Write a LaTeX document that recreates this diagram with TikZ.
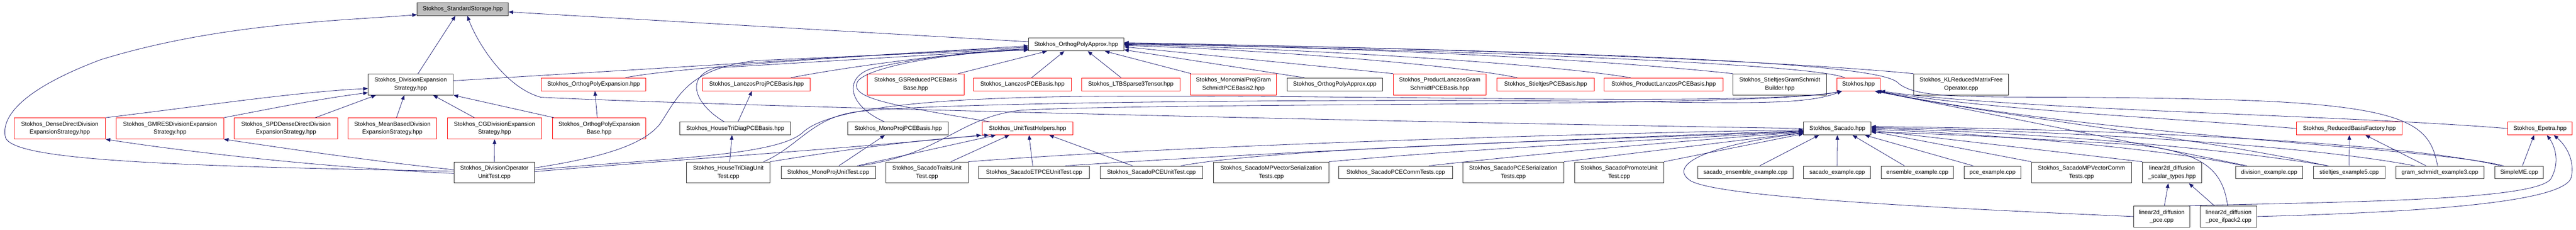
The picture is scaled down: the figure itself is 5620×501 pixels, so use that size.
\documentclass[tikz,border=0pt]{standalone}
\usepackage{fontspec}
\setmainfont{Liberation Sans}
\usetikzlibrary{arrows.meta}
\definecolor{edgeblue}{RGB}{25,25,112}
\definecolor{boxgray}{RGB}{191,191,191}
\tikzset{
  box/.style={draw, fill=white, line width=1.1pt, align=center, inner sep=1pt,
    font=\fontsize{12.8}{17.3}\selectfont},
  hdr/.style={box, draw=red},
  src/.style={box, draw=black!85},
  cur/.style={box, draw=black!80, fill=boxgray},
  one/.style={minimum height=28pt},
  two/.style={minimum height=46pt},
  inc/.style={->, edgeblue, line width=0.9pt}
}
\begin{document}
\begin{tikzpicture}[>={Stealth[inset=0pt,length=10pt,width=8pt]},x=1pt,y=-1pt]
\fill[white] (0,0) rectangle (5620,501);
\useasboundingbox (0,0) rectangle (5620,501);
% top
\node[cur,one,minimum width=199pt] (ss) at (1009.5,20) {Stokhos\_StandardStorage.hpp};
\node[src,one,minimum width=208pt] (opa) at (2348,97) {Stokhos\_OrthogPolyApprox.hpp};
% second row
\node[src,two,minimum width=186pt] (des) at (896,184) {Stokhos\_DivisionExpansion\\Strategy.hpp};
\node[hdr,one,minimum width=228pt] (ope) at (1295,184) {Stokhos\_OrthogPolyExpansion.hpp};
\node[hdr,one,minimum width=235pt] (lpb) at (1650.5,184) {Stokhos\_LanczosProjPCEBasis.hpp};
\node[hdr,two,minimum width=211pt] (gsr) at (1997.5,184) {Stokhos\_GSReducedPCEBasis\\Base.hpp};
\node[hdr,one,minimum width=213pt] (lzb) at (2230.5,184) {Stokhos\_LanczosPCEBasis.hpp};
\node[hdr,one,minimum width=214pt] (ltb) at (2467,184) {Stokhos\_LTBSparse3Tensor.hpp};
\node[hdr,two,minimum width=188pt] (mgs) at (2691,184) {Stokhos\_MonomialProjGram\\SchmidtPCEBasis2.hpp};
\node[src,one,minimum width=208pt] (opc) at (2912,184) {Stokhos\_OrthogPolyApprox.cpp};
\node[hdr,two,minimum width=202pt] (plg) at (3141,184) {Stokhos\_ProductLanczosGram\\SchmidtPCEBasis.hpp};
\node[hdr,one,minimum width=212pt] (spb) at (3372,184) {Stokhos\_StieltjesPCEBasis.hpp};
\node[hdr,one,minimum width=259pt] (plb) at (3629.5,184) {Stokhos\_ProductLanczosPCEBasis.hpp};
\node[src,two,minimum width=204pt] (sgs) at (3883,184) {Stokhos\_StieltjesGramSchmidt\\Builder.hpp};
\node[hdr,one,minimum width=95pt] (sto) at (4054.5,184) {Stokhos.hpp};
\node[src,two,minimum width=207pt] (klr) at (4278.5,184) {Stokhos\_KLReducedMatrixFree\\Operator.cpp};
% third row
\node[hdr,two,minimum width=199pt] (ddd) at (130.5,280) {Stokhos\_DenseDirectDivision\\ExpansionStrategy.hpp};
\node[hdr,two,minimum width=234pt] (gmr) at (371,280) {Stokhos\_GMRESDivisionExpansion\\Strategy.hpp};
\node[hdr,two,minimum width=226pt] (spd) at (624,280) {Stokhos\_SPDDenseDirectDivision\\ExpansionStrategy.hpp};
\node[hdr,two,minimum width=194pt] (mbd) at (856,280) {Stokhos\_MeanBasedDivision\\ExpansionStrategy.hpp};
\node[hdr,two,minimum width=206pt] (cgd) at (1079,280) {Stokhos\_CGDivisionExpansion\\Strategy.hpp};
\node[hdr,two,minimum width=204pt] (opb) at (1307,280) {Stokhos\_OrthogPolyExpansion\\Base.hpp};
\node[src,one,minimum width=242pt] (htb) at (1604,280) {Stokhos\_HouseTriDiagPCEBasis.hpp};
\node[src,one,minimum width=219pt] (mpb) at (1959.5,280) {Stokhos\_MonoProjPCEBasis.hpp};
\node[hdr,one,minimum width=198pt] (uth) at (2242,280) {Stokhos\_UnitTestHelpers.hpp};
\node[src,one,minimum width=147pt] (sac) at (4008.5,280) {Stokhos\_Sacado.hpp};
\node[hdr,one,minimum width=231pt] (rbf) at (5125.5,280) {Stokhos\_ReducedBasisFactory.hpp};
\node[hdr,one,minimum width=141pt] (epe) at (5541.5,280) {Stokhos\_Epetra.hpp};
% fourth row
\node[src,two,minimum width=175pt] (dot) at (1078.5,376) {Stokhos\_DivisionOperator\\UnitTest.cpp};
\node[src,two,minimum width=182pt] (htu) at (1589,376) {Stokhos\_HouseTriDiagUnit\\Test.cpp};
\node[src,one,minimum width=206pt] (mpu) at (1807,376) {Stokhos\_MonoProjUnitTest.cpp};
\node[src,two,minimum width=179pt] (stu) at (2022.5,376) {Stokhos\_SacadoTraitsUnit\\Test.cpp};
\node[src,one,minimum width=242pt] (etu) at (2256,376) {Stokhos\_SacadoETPCEUnitTest.cpp};
\node[src,one,minimum width=224pt] (pcu) at (2512,376) {Stokhos\_SacadoPCEUnitTest.cpp};
\node[src,two,minimum width=251pt] (mvs) at (2773.5,376) {Stokhos\_SacadoMPVectorSerialization\\Tests.cpp};
\node[src,one,minimum width=248pt] (pct) at (3045,376) {Stokhos\_SacadoPCECommTests.cpp};
\node[src,two,minimum width=221pt] (pcs) at (3301.5,376) {Stokhos\_SacadoPCESerialization\\Tests.cpp};
\node[src,two,minimum width=195pt] (spu) at (3532.5,376) {Stokhos\_SacadoPromoteUnit\\Test.cpp};
\node[src,one,minimum width=208pt] (see) at (3808,376) {sacado\_ensemble\_example.cpp};
\node[src,one,minimum width=146pt] (sex) at (4008,376) {sacado\_example.cpp};
\node[src,one,minimum width=158pt] (eex) at (4183,376) {ensemble\_example.cpp};
\node[src,one,minimum width=124pt] (pex) at (4347,376) {pce\_example.cpp};
\node[src,two,minimum width=218pt] (mvc) at (4541,376) {Stokhos\_SacadoMPVectorComm\\Tests.cpp};
\node[src,two,minimum width=129pt] (lst) at (4738.5,376) {linear2d\_diffusion\\\_scalar\_types.hpp};
\node[src,one,minimum width=147pt] (dex) at (4950.5,376) {division\_example.cpp};
\node[src,one,minimum width=156pt] (sx5) at (5125,376) {stieltjes\_example5.cpp};
\node[src,one,minimum width=192pt] (gs3) at (5323,376) {gram\_schmidt\_example3.cpp};
\node[src,one,minimum width=106pt] (sme) at (5496,376) {SimpleME.cpp};
% bottom row
\node[src,two,minimum width=122pt] (lpc) at (4716,472) {linear2d\_diffusion\\\_pce.cpp};
\node[src,two,minimum width=124pt] (lpi) at (4862,472) {linear2d\_diffusion\\\_pce\_ifpack2.cpp};
% into the storage header
\draw[inc] ([xshift=16pt]des.north) -- ([xshift=-16pt]ss.south);
\draw[inc] (sac.west) .. controls (2800,262) and (1500,228) .. (1180,212) .. controls (1100,190) and (1040,90) .. ([xshift=10pt]ss.south);
\draw[inc] ([yshift=6pt]opa.west) -- ([yshift=-6pt]ss.east);
\draw[inc] ([yshift=3pt]dot.west) .. controls (300,362) and (30,345) .. (12,300) .. controls (0,250) and (60,190) .. (220,130) .. controls (480,50) and (750,45) .. ([yshift=-12pt]ss.west);
% into OrthogPolyApprox.hpp
\draw[inc] ([yshift=8pt]des.east) -- ([yshift=-3pt]opa.west);
\draw[inc] ([xshift=-45pt]ope.north east) .. controls (1450,150) and (1900,118) .. ([yshift=-6pt]opa.west);
\draw[inc] ([yshift=10pt]dot.east) .. controls (1300,345) and (1400,320) .. (1440,270) .. controls (1480,210) and (1500,150) .. (1650,132) -- ([yshift=-9pt]opa.west);
\draw[inc] ([xshift=-24pt]htb.north) .. controls (1520,230) and (1490,170) .. (1560,148) -- ([yshift=-10pt]opa.west);
\draw[inc] ([xshift=75pt]lpb.north) .. controls (1850,145) and (2100,112) .. ([yshift=-12pt]opa.west);
\draw[inc] ([xshift=-30pt]mpb.north) .. controls (1850,230) and (1840,170) .. (1900,150) .. controls (2000,125) and (2150,110) .. ([yshift=-12pt]opa.west);
\draw[inc] ([xshift=-83pt]uth.north) .. controls (1950,230) and (1855,215) .. (1870,180) .. controls (1880,150) and (2050,115) .. ([yshift=-12pt]opa.west);
\draw[inc] ([xshift=-13pt]gsr.north east) -- ([xshift=-64pt]opa.south);
\draw[inc] ([xshift=20pt]lzb.north) -- ([xshift=-26pt]opa.south);
\draw[inc] ([xshift=-21pt]ltb.north) -- ([xshift=25pt]opa.south);
\draw[inc] ([xshift=2pt]mgs.north west) -- ([xshift=-42pt]opa.south east);
\draw[inc] ([xshift=-66pt]opc.north) -- ([yshift=3pt]opa.south east);
\draw[inc] (plg.north west) -- ([yshift=-5pt]opa.east);
\draw[inc] ([xshift=-62pt]spb.north) .. controls (3200,145) and (2800,110) .. ([yshift=-2pt]opa.east);
\draw[inc] ([xshift=-72pt]plb.north) .. controls (3350,135) and (2800,105) .. (opa.east);
\draw[inc] (sgs.north west) .. controls (3400,120) and (2800,100) .. ([yshift=1pt]opa.east);
\draw[inc] ([xshift=-30pt]sto.north) .. controls (3950,135) and (3000,105) .. ([yshift=2pt]opa.east);
\draw[inc] (klr.north west) .. controls (3800,125) and (3000,102) .. ([yshift=3pt]opa.east);
\draw[inc] ([xshift=-5pt]gs3.north) .. controls (5300,270) and (5260,225) .. (4800,216) .. controls (4350,205) and (4190,225) .. (4140,180) .. controls (4100,140) and (3600,115) .. ([yshift=4pt]opa.east);
% into Stokhos.hpp
\draw[inc] ([yshift=6pt]dot.east) .. controls (1450,345) and (1690,340) .. (1750,290) .. controls (1800,240) and (2000,212) .. (2400,210) .. controls (3000,206) and (3850,232) .. ([xshift=-36pt]sto.south);
\draw[inc] ([xshift=77pt]htu.north) .. controls (1740,320) and (1770,260) .. (1860,245) .. controls (2000,222) and (3000,214) .. (3600,222) .. controls (3850,226) and (3950,225) .. ([xshift=-36pt]sto.south);
\draw[inc] ([xshift=68pt]mpu.north) .. controls (2060,335) and (2090,255) .. (2230,240) .. controls (2600,222) and (3850,235) .. ([xshift=-36pt]sto.south);
\draw[inc] (epe.west) .. controls (5100,250) and (4400,240) .. (sto.south east);
\draw[inc] (rbf.west) .. controls (4700,255) and (4350,240) .. ([xshift=-8pt]sto.south east);
\draw[inc] ([xshift=-34pt]sme.north) .. controls (5300,320) and (4600,300) .. ([xshift=-8pt]sto.south east);
\draw[inc] ([xshift=-48pt]sx5.north) .. controls (4800,300) and (4400,260) .. ([xshift=-12pt]sto.south east);
\draw[inc] ([xshift=-48pt]dex.north) .. controls (4700,320) and (4400,260) .. ([xshift=-12pt]sto.south east);
% reduced basis factory and epetra
\draw[inc] (sx5.north) -- (rbf.south);
\draw[inc] ([xshift=-30pt]gs3.north) -- ([xshift=35pt]rbf.south);
\draw[inc] ([xshift=7pt]sme.north) -- ([xshift=-13pt]epe.south);
\draw[inc] ([xshift=-3pt]lpc.north east) .. controls (5100,440) and (5530,438) .. (5565,390) .. controls (5585,355) and (5575,320) .. ([xshift=15pt]epe.south);
\draw[inc] (lpi.east) .. controls (5300,462) and (5600,440) .. (5610,385) .. controls (5618,340) and (5590,310) .. ([xshift=30pt]epe.south);
\draw[inc] ([xshift=6pt]lpc.north) -- ([xshift=-8pt]lst.south);
\draw[inc] ([xshift=-31pt]lpi.north) -- ([xshift=37pt]lst.south);
% into Stokhos_Sacado.hpp
\draw[inc] (lpc.west) .. controls (4200,452) and (3760,430) .. (3690,395) .. controls (3640,365) and (3700,320) .. ([yshift=-10pt]sac.west);
\draw[inc] (stu.north east) .. controls (2600,315) and (3500,290) .. ([yshift=-3pt]sac.west);
\draw[inc] ([xshift=68pt]etu.north) .. controls (2800,330) and (3500,300) .. ([yshift=-5pt]sac.west);
\draw[inc] ([xshift=64pt]pcu.north) .. controls (2800,320) and (3500,305) .. ([yshift=-6pt]sac.west);
\draw[inc] (mvs.north east) .. controls (3200,325) and (3600,305) .. ([yshift=-7pt]sac.west);
\draw[inc] ([xshift=72pt]pct.north) .. controls (3400,330) and (3700,305) .. ([yshift=-8pt]sac.west);
\draw[inc] (pcs.north east) -- ([yshift=-9pt]sac.west);
\draw[inc] (spu.north east) -- ([yshift=3pt]sac.south west);
\draw[inc] ([xshift=31pt]see.north) -- ([xshift=-40pt]sac.south);
\draw[inc] (sex.north) -- (sac.south);
\draw[inc] ([xshift=-28pt]eex.north) -- ([xshift=33pt]sac.south);
\draw[inc] ([xshift=-42pt]pex.north) -- ([xshift=60pt]sac.south);
\draw[inc] (mvc.north west) -- ([yshift=-6pt]sac.east);
\draw[inc] (lst.north west) -- ([yshift=-4pt]sac.east);
\draw[inc] ([xshift=-55pt]dex.north) .. controls (4700,320) and (4300,290) .. ([yshift=-2pt]sac.east);
\draw[inc] ([xshift=-45pt]sx5.north) .. controls (4800,315) and (4350,285) .. (sac.east);
\draw[inc] ([xshift=-55pt]gs3.north) .. controls (5000,310) and (4400,282) .. ([yshift=2pt]sac.east);
\draw[inc] ([xshift=-40pt]sme.north) .. controls (5200,300) and (4400,278) .. ([yshift=4pt]sac.east);
\draw[inc] ([xshift=-2pt]lpi.north) .. controls (4850,380) and (4820,330) .. (4650,315) .. controls (4400,300) and (4200,290) .. ([yshift=-8pt]sac.east);
% into Stokhos_UnitTestHelpers.hpp
\draw[inc] ([yshift=2pt]dot.east) .. controls (1450,350) and (1900,320) .. ([xshift=-2pt]uth.south west);
\draw[inc] (htu.north east) .. controls (1850,325) and (2000,305) .. ([xshift=15pt]uth.south west);
\draw[inc] ([xshift=63pt]mpu.north) -- ([xshift=30pt]uth.south west);
\draw[inc] ([xshift=52pt]stu.north) -- ([xshift=-40pt]uth.south);
\draw[inc] ([xshift=-3pt]etu.north) -- ([xshift=3pt]uth.south);
\draw[inc] ([xshift=-41pt]pcu.north) -- ([xshift=47pt]uth.south);
% division strategies
\draw[inc] (ddd.north east) .. controls (450,230) and (650,200) .. ([yshift=-9pt]des.west);
\draw[inc] (gmr.north east) .. controls (600,235) and (700,215) .. ([yshift=-18pt]des.west);
\draw[inc] ([xshift=64pt]spd.north) -- ([xshift=-76pt]des.south);
\draw[inc] ([xshift=9pt]mbd.north) -- ([xshift=-14pt]des.south);
\draw[inc] ([xshift=-44pt]cgd.north) -- ([xshift=49pt]des.south);
\draw[inc] ([xshift=4pt]opb.north west) -- (des.south east);
\draw[inc] ([xshift=-4pt]opb.north) -- ([xshift=3pt]ope.south);
\draw[inc] (dot.north) -- (cgd.south);
\draw[inc] ([yshift=-2pt]dot.west) .. controls (700,365) and (400,330) .. (ddd.south east);
\draw[inc] ([yshift=6pt]dot.west) .. controls (800,350) and (600,320) .. (gmr.south east);
% bases and their tests
\draw[inc] ([xshift=3pt]htu.north) -- ([xshift=-7pt]htb.south);
\draw[inc] ([xshift=6pt]htb.north) -- ([xshift=-10pt]lpb.south);
\draw[inc] ([xshift=23pt]mpu.north) -- ([xshift=-29pt]mpb.south);
\end{tikzpicture}
\end{document}
